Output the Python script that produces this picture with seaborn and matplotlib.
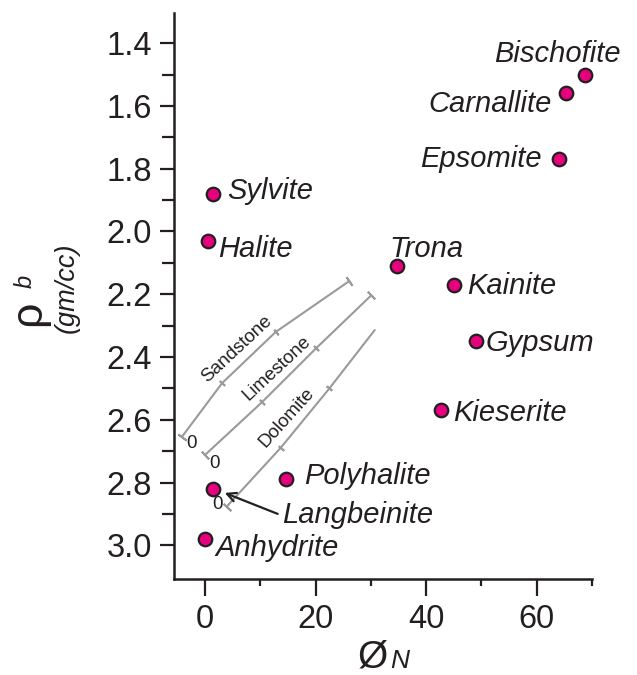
import numpy as np
import pandas as pd
import matplotlib
matplotlib.use("Agg")
import matplotlib.pyplot as plt
import matplotlib.transforms as mtransforms
import seaborn as sns

# ---------------- data ----------------
minerals = ["Bischofite", "Carnallite", "Epsomite", "Sylvite", "Halite", "Trona",
            "Kainite", "Gypsum", "Kieserite", "Polyhalite", "Langbeinite", "Anhydrite"]
neutron_porosity = [68.8, 65.3, 64.0, 1.4, 0.5, 34.8, 45.1, 49.0, 42.7, 14.7, 1.4, 0.0]
bulk_density = [1.50, 1.56, 1.77, 1.88, 2.03, 2.11, 2.17, 2.35, 2.57, 2.79, 2.82, 2.98]

porosity_steps = [0, 10, 20, 30]
lithologies = ["Sandstone", "Limestone", "Dolomite"]
sandstone_neutron = [-4.2, 3.1, 12.8, 26.1]
sandstone_density = [2.655, 2.483, 2.320, 2.158]
limestone_neutron = [0.0, 10.3, 20.1, 30.1]
limestone_density = [2.712, 2.544, 2.372, 2.203]
dolomite_neutron = [3.9, 13.7, 22.5, 30.7]
dolomite_density = [2.877, 2.689, 2.500, 2.314]

x_major_ticks = [0, 20, 40, 60]
x_minor_ticks = [10, 30, 50, 70]
y_major_ticks = [1.4, 1.6, 1.8, 2.0, 2.2, 2.4, 2.6, 2.8, 3.0]
y_minor_ticks = [1.5, 1.7, 1.9, 2.1, 2.3, 2.5, 2.7, 2.9]
y_tick_labels = ["1.4", "1.6", "1.8", "2.0", "2.2", "2.4", "2.6", "2.8", "3.0"]
x_tick_labels = ["0", "20", "40", "60"]

# ---------------- styling / layout ----------------
W, H = 637, 675
TXT = "#231f20"
MAG = "#e6007e"
GRAY = "#9a9a9a"

# label placement: (ha, dx px, dy px up) relative to point
label_layout = {
    "Bischofite": ("right", 35, 13),
    "Carnallite": ("right", -14, -19),
    "Epsomite": ("right", -17, -8),
    "Sylvite": ("left", 14, -5),
    "Halite": ("left", 10, -16),
    "Trona": ("left", -8, 9),
    "Kainite": ("left", 13, -9),
    "Gypsum": ("left", 10, -10),
    "Kieserite": ("left", 12, -11),
    "Polyhalite": ("left", 18, -5),
    "Langbeinite": ("left", 69, -34),
    "Anhydrite": ("left", 10, -17),
}
# lithology name placement (data coords, rotation)
litho_name_layout = {
    "Sandstone": (5.7, 2.375, 43),
    "Limestone": (13.0, 2.436, 43),
    "Dolomite": (14.85, 2.592, 48),
}
zero_label_layout = {
    "Sandstone": (-2.4, 2.675),
    "Limestone": (1.8, 2.739),
    "Dolomite": (2.2, 2.871),
}
end_caps = {"Sandstone": True, "Limestone": True, "Dolomite": False}

sns.set_theme(style="ticks")
plt.rcParams["font.family"] = ["Liberation Sans", "DejaVu Sans"]

fig = plt.figure(figsize=(W / 100, H / 100), dpi=100)
ax = fig.add_axes([174 / W, 1 - 579 / H, (592 - 174) / W, (579 - 13) / H])

df = pd.DataFrame({"mineral": minerals, "phi_n": neutron_porosity, "rho_b": bulk_density})

# lithology lines
litho_data = {
    "Sandstone": (sandstone_neutron, sandstone_density),
    "Limestone": (limestone_neutron, limestone_density),
    "Dolomite": (dolomite_neutron, dolomite_density),
}
for name in lithologies:
    xs, ys = litho_data[name]
    ldf = pd.DataFrame({"x": xs, "y": ys, "phi": porosity_steps})
    sns.lineplot(data=ldf, x="x", y="y", sort=False, estimator=None, color=GRAY,
                 linewidth=1.5, ax=ax, zorder=2)

ax.set_xlim(-5.6, 70)
ax.set_ylim(3.107, 1.304)

# perpendicular ticks along lithology lines
for name in lithologies:
    xs, ys = litho_data[name]
    pts = ax.transData.transform(np.column_stack([xs, ys]))
    n = len(xs)
    for i in range(n):
        a = pts[max(i - 1, 0)]
        b = pts[min(i + 1, n - 1)]
        ang = np.degrees(np.arctan2(b[1] - a[1], b[0] - a[0]))
        if i == 0:
            size = 7.5
        elif i == n - 1:
            if not end_caps[name]:
                continue
            size = 7.5
        else:
            size = 5
        ax.plot([xs[i]], [ys[i]], linestyle="none", marker=(2, 2, ang),
                markersize=size, markeredgewidth=1.4, markeredgecolor=GRAY, zorder=2)

for name in lithologies:
    x0, y0, rot = litho_name_layout[name]
    ax.text(x0, y0, name, rotation=rot, rotation_mode="anchor", ha="center", va="center",
            fontsize=13.5, color=TXT, zorder=3)
    zx, zy = zero_label_layout[name]
    ax.text(zx, zy, "0", ha="center", va="center", fontsize=13.5, color=TXT, zorder=3)

# mineral points
sns.scatterplot(data=df, x="phi_n", y="rho_b", color=MAG, edgecolor=TXT, linewidth=1.6,
                s=95, ax=ax, zorder=5, clip_on=False, legend=False)

for m, xv, yv in zip(minerals, neutron_porosity, bulk_density):
    ha, dx, dy = label_layout[m]
    ax.annotate(m, xy=(xv, yv), xytext=(dx, dy), textcoords="offset pixels",
                ha=ha, va="baseline", fontsize=21, style="italic", color=TXT, zorder=6)

# arrow for Langbeinite
i_l = minerals.index("Langbeinite")
tip = mtransforms.offset_copy(ax.transData, fig=fig, x=12, y=-4, units="dots")
ax.annotate("", xy=(neutron_porosity[i_l], bulk_density[i_l]), xycoords=tip,
            xytext=(53, -21), textcoords="offset pixels",
            arrowprops=dict(arrowstyle="->", color=TXT, lw=1.6, shrinkA=0, shrinkB=0,
                            mutation_scale=16))

# axes styling
sns.despine(ax=ax)
for sp in ("left", "bottom"):
    ax.spines[sp].set_linewidth(1.8)
    ax.spines[sp].set_color(TXT)
ax.set_xticks(x_major_ticks)
ax.set_xticklabels(x_tick_labels)
ax.set_xticks(x_minor_ticks, minor=True)
ax.set_yticks(y_major_ticks)
ax.set_yticklabels(y_tick_labels)
ax.set_yticks(y_minor_ticks, minor=True)
ax.tick_params(axis="x", which="major", length=12, width=1.6, color=TXT, labelsize=23.5,
               labelcolor=TXT, pad=6, direction="out")
ax.tick_params(axis="x", which="minor", length=5, width=1.6, color=TXT, direction="out")
ax.tick_params(axis="y", which="major", length=10, width=1.6, color=TXT, labelsize=23.5,
               labelcolor=TXT, pad=6, direction="out")
ax.tick_params(axis="y", which="minor", length=9, width=1.6, color=TXT, direction="out")
ax.set_xlabel("")
ax.set_ylabel("")
ax.grid(False)


def fpos(x, y):
    return x / W, 1 - y / H


# y-axis label pieces
fig.text(*fpos(29, 313), "\u03c1", rotation=90, ha="center", va="center", fontsize=32,
         color=TXT)
fig.text(*fpos(25, 281), "b", rotation=90, ha="center", va="center", fontsize=17,
         style="italic", color=TXT)
fig.text(*fpos(67, 288), "(gm/cc)", rotation=90, ha="center", va="center", fontsize=19.5,
         style="italic", color=TXT)

# x-axis label pieces
fig.text(*fpos(358, 668), "\u00d8", ha="left", va="baseline", fontsize=28, color=TXT)
fig.text(*fpos(390, 668), "N", ha="left", va="baseline", fontsize=19, style="italic",
         color=TXT)

fig.savefig("out.png", dpi=100)
